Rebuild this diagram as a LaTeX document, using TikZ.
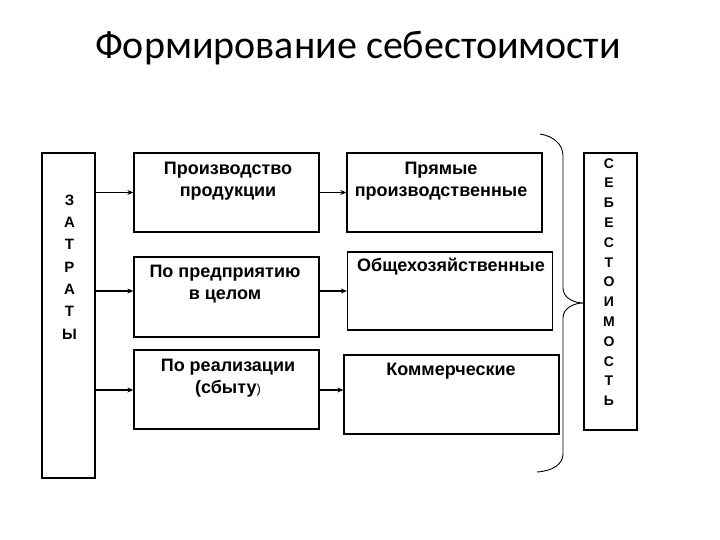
\documentclass[tikz,border=0pt]{standalone}
\usepackage{fontspec}
\setmainfont{Liberation Sans}
\newfontfamily\titlefont{Carlito}
\usetikzlibrary{arrows.meta}
\begin{document}
\begin{tikzpicture}[x=1pt,y=-1pt,
  box/.style={draw, line width=1.3pt, minimum width=#1, inner sep=0pt},
  txt/.style={font=\fontsize{18}{22}\selectfont\bfseries, align=center, inner sep=0pt},
  vtxt/.style={font=\fontsize{15}{#1}\selectfont\bfseries, align=center, inner sep=0pt},
  arr/.style={line width=1.3pt, -{Stealth[length=6pt,width=5pt]}},
  bracestyle/.style={line width=0.9pt}]
\useasboundingbox (0,0) rectangle (720,540);
% title
\node[font=\titlefont\fontsize{40}{44}\selectfont, inner sep=0pt] (title) at (358,48) {Формирование себестоимости};
% left tall box
\node[box=53pt, minimum height=325pt] (zat) at (68.5,315.5) {};
\node[vtxt=22.3pt] (zatt) at (69.5,267) {З\\А\\Т\\Р\\А\\Т\\Ы};
% middle column
\node[box=185pt, minimum height=79pt] (b1) at (226.5,192.5) {};
\node[box=185pt, minimum height=80pt] (b2) at (226.5,297) {};
\node[box=185pt, minimum height=79pt] (b3) at (226.5,389.5) {};
\node[txt] (t1) at (228,181) {Производство\\продукции};
\node[txt] (t2) at (225,284) {По предприятию\\в целом};
\node[txt] (t3) at (228,378) {По реализации\\(сбыту{\mdseries\fontsize{13}{14}\selectfont)}};
% right column
\node[box=195pt, minimum height=79pt] (r1) at (444.5,192.5) {};
\node[box=205pt, minimum height=78pt] (r2) at (450,291) {};
\node[box=215pt, minimum height=79pt] (r3) at (451.5,394.5) {};
\node[txt] (s1) at (441,181) {Прямые\\производственные};
\node[txt] (s2) at (451,267) {Общехозяйственные};
\node[txt] (s3) at (451,371) {Коммерческие};
% cost box
\node[box=53pt, minimum height=277pt] (seb) at (610.5,291.5) {};
\node[vtxt=19.8pt, font=\fontsize{14}{19.8pt}\selectfont\bfseries] (sebt) at (609,282) {С\\Е\\Б\\Е\\С\\Т\\О\\И\\М\\О\\С\\Т\\Ь};
% arrows
\coordinate (y2) at (0,291);
\coordinate (y3) at (0,390);
\draw[arr] (zat.east |- b1.west) -- (b1.west);
\draw[arr] (zat.east |- y2) -- (b2.west |- y2);
\draw[arr] (zat.east |- y3) -- (b3.west |- y3);
\draw[arr] (b1.east) -- (r1.west);
\draw[arr] (b2.east |- y2) -- (r2.west |- y2);
\draw[arr] (b3.east |- y3) -- (r3.west |- y3);
% brace
\coordinate (tip) at (seb.west |- 0,303);
\draw[bracestyle] (540,134) .. controls (553,136) and (563,144) .. (563,156)
  -- (563,288) .. controls (563,298) and (574,303) .. (tip)
  .. controls (574,303) and (563,308) .. (563,318)
  -- (563,454) .. controls (563,464) and (553,471) .. (537,472);
\end{tikzpicture}
\end{document}
